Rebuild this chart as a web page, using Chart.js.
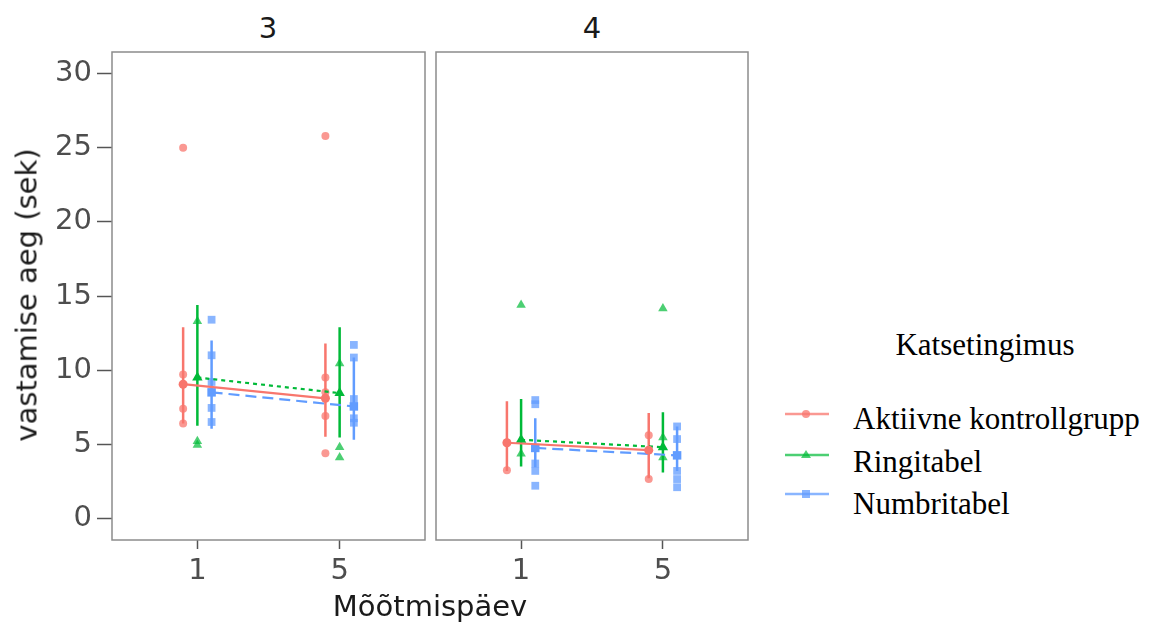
<!DOCTYPE html>
<html>
<head>
<meta charset="utf-8">
<script src="https://cdn.jsdelivr.net/npm/chart.js@4/dist/chart.umd.min.js"></script>
<style>
  body { margin: 0; background: #fff; width: 1150px; height: 623px; position: relative; overflow: hidden; }
  canvas { position: absolute; }
  .lbl { position: absolute; font-family: "DejaVu Sans", sans-serif; font-size: 29px; line-height: 1; color: #1a1a1a; white-space: nowrap; }
  .leg { position: absolute; font-family: "Liberation Serif", serif; font-size: 31px; line-height: 1.107; color: #000; white-space: nowrap; }
  svg { position: absolute; }
</style>
</head>
<body>
<canvas id="panel3" width="431" height="550" style="left:0;top:46px"></canvas>
<canvas id="panel4" width="328" height="550" style="left:426px;top:46px"></canvas>

<div class="lbl" style="left:268px;top:14px;transform:translateX(-50%)">3</div>
<div class="lbl" style="left:592px;top:14px;transform:translateX(-50%)">4</div>
<div class="lbl" style="left:430px;top:592px;transform:translateX(-50%)">Mõõtmispäev</div>
<div class="lbl" style="left:27px;top:295px;transform:translate(-50%,-50%) rotate(-90deg)">vastamise aeg (sek)</div>

<div class="leg" style="left:985px;top:328px;transform:translateX(-50%)">Katsetingimus</div>
<div id="legend"></div>

<script>
const days = ['1', '5'];
const groups = ['Aktiivne kontrollgrupp', 'Ringitabel', 'Numbritabel'];
const yTicks = [0, 5, 10, 15, 20, 25, 30];

// panel "3": per group -> [day 1, day 5]
const mean3 = [[9.05, 8.1], [9.5, 8.45], [8.5, 7.55]];
const low3 = [[6.4, 5.5], [6.25, 5.45], [6.05, 5.3]];
const high3 = [[12.9, 11.8], [14.4, 12.9], [12.0, 10.85]];
const raw3Day1 = [[25.0, 9.7, 7.4, 6.4], [13.3, 5.2, 4.95], [13.4, 11.0, 9.2, 7.45, 6.5]];
const raw3Day5 = [[25.8, 9.5, 8.5, 6.9, 4.4], [10.45, 4.8, 4.1], [11.7, 10.85, 8.05, 6.75, 6.45]];

// panel "4"
const mean4 = [[5.1, 4.6], [5.3, 4.8], [4.75, 4.25]];
const low4 = [[3.2, 2.7], [3.5, 3.1], [3.45, 3.2]];
const high4 = [[7.9, 7.1], [8.05, 7.15], [6.75, 6.2]];
const raw4Day1 = [[5.1, 3.25], [14.4, 4.35], [7.98, 7.7, 3.7, 3.2, 2.2]];
const raw4Day5 = [[5.6, 2.65], [14.15, 5.45, 4.1], [6.2, 5.35, 3.2, 2.65, 2.1]];

const colors = ['#F8766D', '#00BA38', '#619CFF'];
const fadedColors = ['rgba(248,118,109,0.75)', 'rgba(0,186,56,0.7)', 'rgba(97,156,255,0.75)'];
const shapes = ['circle', 'triangle', 'rect'];
const rawRadius = [4, 5.5, 5.5];
const meanRadius = [4.5, 6, 6];
const dashes = [[], [4, 4], [11, 6]];
const dodge = 0.1;

const tickFont = { family: 'DejaVu Sans', size: 29 };

function xPos(dayIdx, g) {
  return dayIdx + 1 + (g - 1) * dodge;
}

function buildDatasets(mean, low, high, rawDay1, rawDay5) {
  const sets = [];
  groups.forEach((name, g) => {
    const pts = [];
    [rawDay1[g], rawDay5[g]].forEach((vals, d) => {
      vals.forEach(v => pts.push({ x: xPos(d, g), y: v }));
    });
    sets.push({
      label: name + ' raw', data: pts, order: 3,
      pointStyle: shapes[g], pointRadius: rawRadius[g],
      pointBackgroundColor: fadedColors[g], pointBorderWidth: 0
    });

    const bars = [];
    days.forEach((_, d) => {
      bars.push({ x: xPos(d, g), y: low[g][d] });
      bars.push({ x: xPos(d, g), y: high[g][d] });
      bars.push({ x: xPos(d, g), y: null });
    });
    sets.push({
      label: name + ' err', data: bars, order: 1, showLine: true, spanGaps: false,
      borderColor: colors[g], borderWidth: 2.5, pointRadius: 0
    });

    sets.push({
      label: name, order: 0, showLine: true,
      data: days.map((_, d) => ({ x: xPos(d, g), y: mean[g][d] })),
      borderColor: colors[g], borderWidth: 2.2, borderDash: dashes[g],
      pointStyle: shapes[g], pointRadius: meanRadius[g],
      pointBackgroundColor: colors[g], pointBorderWidth: 0
    });
  });
  return sets;
}

const panelBorder = {
  id: 'panelBorder',
  afterDraw(chart) {
    const a = chart.chartArea;
    const ctx = chart.ctx;
    ctx.save();
    ctx.strokeStyle = '#8c8c8c';
    ctx.lineWidth = 1.5;
    ctx.strokeRect(a.left, a.top, a.right - a.left, a.bottom - a.top);
    ctx.restore();
  }
};

function noPadding(s) {
  s.paddingTop = 0;
  s.paddingBottom = 0;
  s.paddingLeft = 0;
  s.paddingRight = 0;
}

function makeChart(id, datasets, showY) {
  const ctx = document.getElementById(id).getContext('2d');
  return new Chart(ctx, {
    type: 'scatter',
    data: { datasets },
    options: {
      responsive: false,
      animation: false,
      devicePixelRatio: 1,
      layout: { padding: { top: 5, right: 2.5, left: showY ? 0 : 10, bottom: 0 } },
      plugins: { legend: { display: false }, tooltip: { enabled: false } },
      scales: {
        x: {
          type: 'linear', min: 0.4, max: 2.6,
          afterBuildTicks: (s) => { s.ticks = days.map((_, i) => ({ value: i + 1 })); },
          afterFit: (s) => { s.height = 56; noPadding(s); },
          ticks: { callback: (v, i) => days[i], font: tickFont, color: '#4d4d4d', padding: 5, maxRotation: 0 },
          grid: { drawOnChartArea: false, drawTicks: true, tickLength: 9, tickColor: '#555', tickWidth: 1.5 },
          border: { display: false }
        },
        y: {
          display: showY,
          min: -1.46, max: 31.46,
          afterBuildTicks: (s) => { s.ticks = yTicks.map(v => ({ value: v })); },
          afterFit: (s) => { s.width = showY ? 112 : 0; noPadding(s); },
          ticks: { font: tickFont, color: '#4d4d4d', padding: 5 },
          grid: { drawOnChartArea: false, drawTicks: true, tickLength: 15, tickColor: '#555', tickWidth: 1.5 },
          border: { display: false }
        }
      }
    },
    plugins: [panelBorder]
  });
}

makeChart('panel3', buildDatasets(mean3, low3, high3, raw3Day1, raw3Day5), true);
makeChart('panel4', buildDatasets(mean4, low4, high4, raw4Day1, raw4Day5), false);

// legend keys
const legendTops = [414, 455, 494];
const legendTextTops = [402, 445, 487];
const legendBox = document.getElementById('legend');
groups.forEach((name, g) => {
  const y = legendTops[g];
  let marker;
  if (shapes[g] === 'circle') marker = `<circle cx="22" cy="10" r="4" fill="${fadedColors[g]}"/>`;
  else if (shapes[g] === 'triangle') marker = `<polygon points="22,5 27,13 17,13" fill="${fadedColors[g]}"/>`;
  else marker = `<rect x="18" y="6" width="8" height="8" fill="${fadedColors[g]}"/>`;
  legendBox.insertAdjacentHTML('beforeend',
    `<svg width="46" height="20" style="left:784px;top:${y - 10}px">` +
    `<line x1="1" y1="10" x2="45" y2="10" stroke="${fadedColors[g]}" stroke-width="2.5"/>${marker}</svg>` +
    `<div class="leg" style="left:853px;top:${legendTextTops[g]}px">${name}</div>`);
});
</script>
</body>
</html>
